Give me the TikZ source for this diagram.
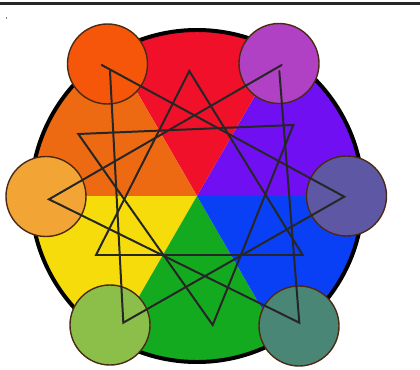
\documentclass[tikz,border=0pt]{standalone}
\usepackage{tikz}

\definecolor{secrojo}{HTML}{F0102A}
\definecolor{secvioleta}{HTML}{7010F2}
\definecolor{secazul}{HTML}{0A40F5}
\definecolor{secverde}{HTML}{14AA20}
\definecolor{secamarillo}{HTML}{F5DC0A}
\definecolor{secnaranja}{HTML}{EE6A12}
\definecolor{bolrojo}{HTML}{F5560A}
\definecolor{bolmagenta}{HTML}{B040C4}
\definecolor{bolnaranja}{HTML}{F2A535}
\definecolor{bolpizarra}{HTML}{5E58A4}
\definecolor{bolverde}{HTML}{8CBE4A}
\definecolor{bolteal}{HTML}{4A8676}
\definecolor{borde}{HTML}{4A2A14}

\begin{document}
\begin{tikzpicture}[
  x=0.03cm, y=-0.03cm,
  bola/.style={circle, draw=borde, line width=1.2pt, inner sep=0pt, minimum size=2.4cm},
  trazo/.style={line width=1.7pt, draw=black!85, line join=miter, line cap=round}
]
  \useasboundingbox (0,0) rectangle (420,370);

  % Marco superior
  \draw[line width=2.2pt, black!85] (0,3.5) -- (420,3.5);
  \fill[black!50] (5.5,17) rectangle (6.5,19);

  % Sectores de la rueda
  \coordinate (o) at (197,196);
  \fill[secvioleta]  (o) -- +(0:4.98cm)   arc[start angle=0,   end angle=60,  radius=4.98cm] -- cycle;
  \fill[secrojo]     (o) -- +(60:4.98cm)  arc[start angle=60,  end angle=120, radius=4.98cm] -- cycle;
  \fill[secnaranja]  (o) -- +(120:4.98cm) arc[start angle=120, end angle=180, radius=4.98cm] -- cycle;
  \fill[secamarillo] (o) -- +(180:4.98cm) arc[start angle=180, end angle=240, radius=4.98cm] -- cycle;
  \fill[secverde]    (o) -- +(240:4.98cm) arc[start angle=240, end angle=300, radius=4.98cm] -- cycle;
  \fill[secazul]     (o) -- +(300:4.98cm) arc[start angle=300, end angle=360, radius=4.98cm] -- cycle;
  \draw[line width=3.4pt, black] (o) circle[radius=4.98cm];

  % Bolas
  \node[bola, fill=bolrojo]    (b1) at (107.5,64) {};
  \node[bola, fill=bolmagenta] (b2) at (279,63.5) {};
  \node[bola, fill=bolnaranja] (b3) at (46,196.5) {};
  \node[bola, fill=bolpizarra] (b4) at (346.5,196) {};
  \node[bola, fill=bolverde]   (b5) at (110,325) {};
  \node[bola, fill=bolteal]    (b6) at (299,326) {};

  % Vertices de la estrella
  \coordinate (s1)  at (101.7,65);
  \coordinate (s2)  at (110,71);
  \coordinate (s3)  at (189.3,71);
  \coordinate (s4)  at (281.7,65);
  \coordinate (s5)  at (279.3,71);
  \coordinate (s6)  at (293.3,125);
  \coordinate (s7)  at (78.3,134);
  \coordinate (s8)  at (49,199.3);
  \coordinate (s9)  at (344.3,196.7);
  \coordinate (s10) at (96,255);
  \coordinate (s11) at (302.7,255);
  \coordinate (s12) at (123.3,322.7);
  \coordinate (s13) at (212.7,325);
  \coordinate (s14) at (299.3,322.7);

  % Triangulos
  \draw[trazo] (s3) -- (s10) -- (s11) -- cycle;
  \draw[trazo] (s7) -- (s6) -- (s13) -- cycle;
  \draw[trazo] (s1) -- (s9) -- (s12) -- (s2);
  \draw[trazo] (s4) -- (s8) -- (s14) -- (s5);
\end{tikzpicture}
\end{document}
